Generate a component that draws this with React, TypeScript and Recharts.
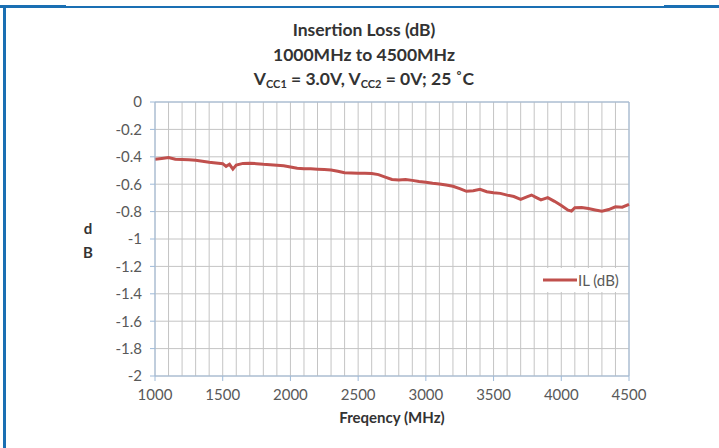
import {
  LineChart,
  Line,
  XAxis,
  YAxis,
  CartesianGrid,
  Legend,
  ReferenceLine,
} from "recharts";

// frequency points (MHz)
const freqMHz = [
  1000, 1050, 1100, 1150, 1200, 1250, 1300, 1350, 1400, 1450, 1500, 1525,
  1550, 1575, 1600, 1650, 1700, 1750, 1800, 1850, 1900, 1950, 2000, 2050,
  2100, 2150, 2200, 2250, 2300, 2350, 2400, 2450, 2500, 2550, 2600, 2650,
  2700, 2750, 2800, 2850, 2900, 2950, 3000, 3050, 3100, 3150, 3200, 3250,
  3300, 3350, 3400, 3450, 3500, 3550, 3600, 3650, 3700, 3750, 3780, 3820,
  3850, 3900, 3950, 4000, 4050, 4075, 4100, 4150, 4200, 4250, 4300, 4350,
  4400, 4450, 4500,
];

// insertion loss (dB)
const insertionLossDb = [
  -0.418, -0.412, -0.405, -0.418, -0.42, -0.422, -0.426, -0.432, -0.44,
  -0.445, -0.45, -0.47, -0.455, -0.49, -0.46, -0.448, -0.447, -0.45, -0.455,
  -0.458, -0.462, -0.465, -0.475, -0.484, -0.487, -0.488, -0.49, -0.493,
  -0.496, -0.505, -0.516, -0.518, -0.52, -0.52, -0.522, -0.53, -0.548,
  -0.565, -0.57, -0.565, -0.572, -0.58, -0.586, -0.593, -0.598, -0.606,
  -0.615, -0.632, -0.652, -0.648, -0.637, -0.655, -0.662, -0.667, -0.68,
  -0.69, -0.71, -0.69, -0.679, -0.7, -0.715, -0.698, -0.725, -0.755, -0.79,
  -0.796, -0.772, -0.77, -0.778, -0.788, -0.797, -0.785, -0.765, -0.768,
  -0.748,
];

const xTicks = [
  1000, 1100, 1200, 1300, 1400, 1500, 1600, 1700, 1800, 1900, 2000, 2100,
  2200, 2300, 2400, 2500, 2600, 2700, 2800, 2900, 3000, 3100, 3200, 3300,
  3400, 3500, 3600, 3700, 3800, 3900, 4000, 4100, 4200, 4300, 4400, 4500,
];
const yTicks = [0, -0.2, -0.4, -0.6, -0.8, -1, -1.2, -1.4, -1.6, -1.8, -2];

const data = freqMHz.map((f, i) => ({ freq: f, il: insertionLossDb[i] }));

const FONT = "Lato, 'Open Sans', sans-serif";
const AXIS_BLUE = "#9fbad8";
const TICK_TEXT = "#595959";

function XTick({ x, y, payload }: any) {
  const v = payload.value;
  if (v % 500 !== 0) return <g />;
  return (
    <g>
      <line x1={x} x2={x} y1={y - 13} y2={y - 8} stroke={AXIS_BLUE} />
      <text
        x={x}
        y={y}
        dy={11}
        textAnchor="middle"
        fill={TICK_TEXT}
        fontSize={15}
        fontFamily={FONT}
      >
        {v}
      </text>
    </g>
  );
}

function LegendBox() {
  return (
    <div
      style={{
        display: "flex",
        alignItems: "center",
        background: "#fff",
        padding: "3px 4px",
        fontFamily: FONT,
        fontSize: 15,
        color: TICK_TEXT,
      }}
    >
      <svg width={34} height={6} style={{ marginRight: 1 }}>
        <line x1={0} x2={34} y1={3} y2={3} stroke="#c0504d" strokeWidth={3} />
      </svg>
      <span>IL (dB)</span>
    </div>
  );
}

export default function App() {
  return (
    <div
      style={{
        position: "absolute",
        left: 0,
        top: 0,
        width: 719,
        height: 448,
        background: "#fff",
        overflow: "hidden",
      }}
    >
      {/* frame */}
      <div style={{ position: "absolute", left: 0, top: 5, width: 66, height: 3, background: "#1a6fb3" }} />
      <div style={{ position: "absolute", left: 66, top: 6, width: 598, height: 2, background: "#1a6fb3" }} />
      <div style={{ position: "absolute", left: 664, top: 5, width: 55, height: 3, background: "#1a6fb3" }} />
      <div style={{ position: "absolute", left: 3, top: 5, width: 3, height: 443, background: "#1a6fb3" }} />

      {/* title */}
      <div
        style={{
          position: "absolute",
          left: 164,
          top: 18,
          width: 400,
          textAlign: "center",
          fontFamily: FONT,
          fontWeight: 700,
          fontSize: 17.5,
          lineHeight: "24.5px",
          color: "#333",
        }}
      >
        <div>Insertion Loss (dB)</div>
        <div>1000MHz to 4500MHz</div>
        <div>
          V<sub style={{ fontSize: 11, verticalAlign: "-3px" }}>CC1</sub> = 3.0V, V
          <sub style={{ fontSize: 11, verticalAlign: "-3px" }}>CC2</sub> = 0V; 25 ˚C
        </div>
      </div>

      {/* y-axis title, stacked letters */}
      <div
        style={{
          position: "absolute",
          left: 81,
          top: 216,
          width: 14,
          textAlign: "center",
          fontFamily: FONT,
          fontWeight: 700,
          fontSize: 15,
          lineHeight: "24px",
          color: "#333",
        }}
      >
        <div>d</div>
        <div>B</div>
      </div>

      {/* x-axis title */}
      <div
        style={{
          position: "absolute",
          left: 292,
          top: 408,
          width: 200,
          textAlign: "center",
          fontFamily: FONT,
          fontWeight: 700,
          fontSize: 15,
          color: "#333",
        }}
      >
        Freqency (MHz)
      </div>

      <LineChart
        width={719}
        height={448}
        data={data}
        margin={{ top: 102, right: 90, bottom: 42, left: 95 }}
        style={{ position: "absolute", left: 0, top: 0 }}
      >
        <CartesianGrid stroke="#c4c4c4" strokeWidth={1} />
        <XAxis
          dataKey="freq"
          type="number"
          domain={[1000, 4500]}
          ticks={xTicks}
          interval={0}
          tick={<XTick />}
          tickLine={false}
          tickSize={5}
          tickMargin={8}
          height={30}
          axisLine={{ stroke: AXIS_BLUE }}
        />
        <YAxis
          type="number"
          domain={[-2, 0]}
          ticks={yTicks}
          interval={0}
          width={60}
          tickSize={5}
          tickMargin={8}
          tickLine={{ stroke: AXIS_BLUE }}
          axisLine={{ stroke: AXIS_BLUE }}
          tick={{ fill: TICK_TEXT, fontSize: 15, fontFamily: FONT }}
          tickFormatter={(v: number) => String(Number(v.toFixed(1)))}
        />
        <ReferenceLine y={0} stroke={AXIS_BLUE} />
        <ReferenceLine x={4500} stroke={AXIS_BLUE} />
        <Legend
          layout="horizontal"
          verticalAlign="middle"
          content={<LegendBox />}
          wrapperStyle={{ left: 539, top: 268, width: "auto" }}
        />
        <Line
          type="linear"
          dataKey="il"
          stroke="#c0504d"
          strokeWidth={3}
          dot={false}
          isAnimationActive={false}
          legendType="line"
        />
      </LineChart>
    </div>
  );
}
